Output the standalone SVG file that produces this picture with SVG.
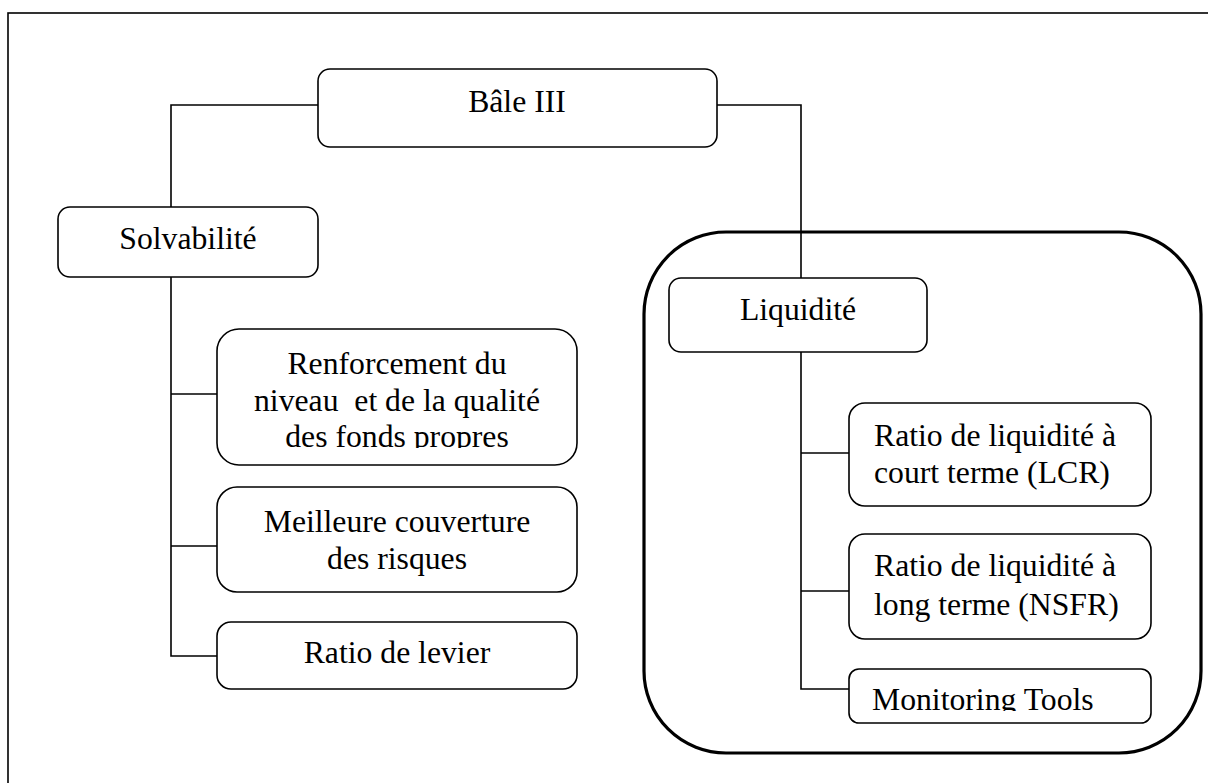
<svg xmlns="http://www.w3.org/2000/svg" width="1208" height="783" viewBox="0 0 1208 783">
<style>
.box{fill:#fff;stroke:#000;stroke-width:1.6}
.t{font-family:"Liberation Serif","Times New Roman",serif;font-size:31.7px;fill:#000}
.c{text-anchor:middle}
.ln{fill:none;stroke:#000;stroke-width:1.6}
</style>
<defs>
<clipPath id="clipR"><rect x="217" y="329" width="360" height="119"/></clipPath>
<clipPath id="clipM"><rect x="849" y="669" width="302" height="42"/></clipPath>
</defs>
<rect x="8" y="13" width="1300" height="900" fill="none" stroke="#000" stroke-width="1.6"/>
<g id="liquidite-group">
<rect x="644" y="232" width="557" height="521" rx="82" ry="82" fill="none" stroke="#000" stroke-width="3.2"/>
</g>
<g id="connectors" class="ln">
<path d="M318 105 H171 V207"/>
<path d="M171 277 V656 H217"/>
<path d="M171 394 H217"/>
<path d="M171 546 H217"/>
<path d="M717 105 H801 V278"/>
<path d="M801 352 V689 H849"/>
<path d="M801 453 H849"/>
<path d="M801 591 H849"/>
</g>
<g id="bale3">
<rect class="box" x="318" y="69" width="399" height="78" rx="12"/>
<text class="t c" x="517" y="112">Bâle III</text>
</g>
<g id="solvabilite">
<rect class="box" x="58" y="207" width="260" height="70" rx="12"/>
<text class="t c" x="188" y="249">Solvabilité</text>
</g>
<g id="renforcement">
<rect class="box" x="217" y="329" width="360" height="136" rx="22"/>
<g clip-path="url(#clipR)">
<text class="t c" x="397" y="374">Renforcement du</text>
<text class="t c" x="397" y="411" xml:space="preserve">niveau  et de la qualité</text>
<text class="t c" x="397" y="447">des fonds propres</text>
</g>
</g>
<g id="meilleure">
<rect class="box" x="217" y="487" width="360" height="105" rx="20"/>
<text class="t c" x="397" y="532">Meilleure couverture</text>
<text class="t c" x="397" y="569">des risques</text>
</g>
<g id="levier">
<rect class="box" x="217" y="622" width="360" height="67" rx="14"/>
<text class="t c" x="397" y="663">Ratio de levier</text>
</g>
<g id="liquidite">
<rect class="box" x="669" y="278" width="258" height="74" rx="12"/>
<text class="t c" x="798" y="320">Liquidité</text>
</g>
<g id="lcr">
<rect class="box" x="849" y="403" width="302" height="103" rx="16"/>
<text class="t" x="874" y="446">Ratio de liquidité à</text>
<text class="t" x="874" y="483">court terme (LCR)</text>
</g>
<g id="nsfr">
<rect class="box" x="849" y="534" width="302" height="105" rx="16"/>
<text class="t" x="874" y="576">Ratio de liquidité à</text>
<text class="t" x="874" y="615">long terme (NSFR)</text>
</g>
<g id="monitoring">
<rect class="box" x="849" y="669" width="302" height="54" rx="10"/>
<g clip-path="url(#clipM)">
<text class="t" x="872" y="710">Monitoring Tools</text>
</g>
</g>
</svg>
